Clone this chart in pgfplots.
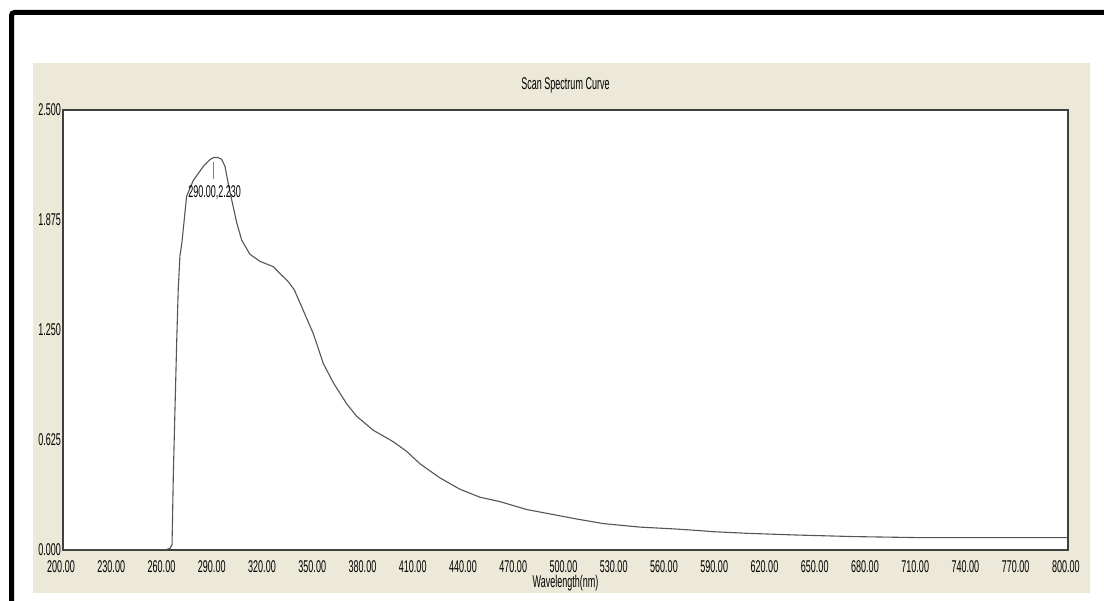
\documentclass[border=0pt]{standalone}
\usepackage{fontspec}
\setmainfont{Liberation Sans}[FakeStretch=0.53]
\usepackage{pgfplots}
\pgfplotsset{compat=1.18}
\usepackage{pgfplotstable}
\definecolor{bgc}{HTML}{ECE9D8}
\definecolor{curvec}{HTML}{555555}
\definecolor{framec}{HTML}{404040}
\pgfplotstableread{
x y
200 0.000
230 0.000
260.9 0.000
263.9 0.01
265.1 0.03
265.9 0.44
267.9 1.19
268.8 1.48
269.8 1.67
270.9 1.74
272.0 1.84
273.8 2.01
277.8 2.10
283.8 2.18
288.0 2.22
290.0 2.23
292.5 2.23
294.7 2.22
296.7 2.18
298.7 2.08
300.7 1.99
303.7 1.86
306.7 1.76
311.6 1.68
317.6 1.64
325.5 1.61
329.6 1.57
334.0 1.53
338.0 1.48
343.5 1.36
349.4 1.23
355.4 1.06
361.4 0.95
369.4 0.83
375.3 0.76
385.3 0.68
397.2 0.615
405.2 0.56
413.1 0.49
425.0 0.41
437.0 0.345
448.9 0.30
460.8 0.275
476.8 0.23
490.7 0.205
506.7 0.176
522.6 0.15
544.5 0.13
564.4 0.12
580.3 0.11
588.2 0.104
608 0.095
638 0.085
672.8 0.076
712.6 0.07
800 0.07
}\spectrum
\begin{document}
\begin{tikzpicture}[x=1pt,y=1pt]
\useasboundingbox (0,0) rectangle (1104,601);
\fill[white] (0,0) rectangle (1104,601);
\draw[line width=5pt, rounded corners=3pt] (11.5,0) -- (11.5,588.5) -- (1104,588.5);
\fill[bgc] (33,8) rectangle (1090,538);
\begin{axis}[
  at={(63pt,51pt)}, anchor=south west,
  scale only axis, width=1005pt, height=440pt,
  xmin=200, xmax=800, ymin=0, ymax=2.5,
  xtick={200,230,...,800},
  ytick={0,0.625,1.25,1.875,2.5},
  major tick length=0pt,
  axis background/.style={fill=white},
  axis line style={framec, line width=1.6pt},
  font=\fontsize{17}{17}\selectfont,
  /pgf/number format/assume math mode=true,
  /pgf/number format/.cd, fixed, fixed zerofill, 1000 sep={},
  /pgfplots/.cd,
  xticklabel style={/pgf/number format/precision=2, anchor=north, inner sep=0pt, yshift=-10pt, xshift=-2pt},
  yticklabel style={/pgf/number format/precision=3, anchor=east, inner sep=0pt, xshift=-2pt},
  title={Scan Spectrum Curve},
  title style={at={(axis description cs:0.5,1)}, anchor=center, yshift=19pt, inner sep=0pt},
  xlabel={Wavelength(nm)},
  xlabel style={at={(axis description cs:0.5,0)}, anchor=center, yshift=-33pt, inner sep=0pt},
]
\addplot[curvec, line width=1.1pt, no markers] table[x=x,y=y] {\spectrum};
\draw[gray, line width=1pt] (axis cs:290,2.205) -- (axis cs:290,2.11);
\node[inner sep=0pt] at (axis cs:290.5,2.03) {290.00,2.230};
\end{axis}
\end{tikzpicture}
\end{document}
